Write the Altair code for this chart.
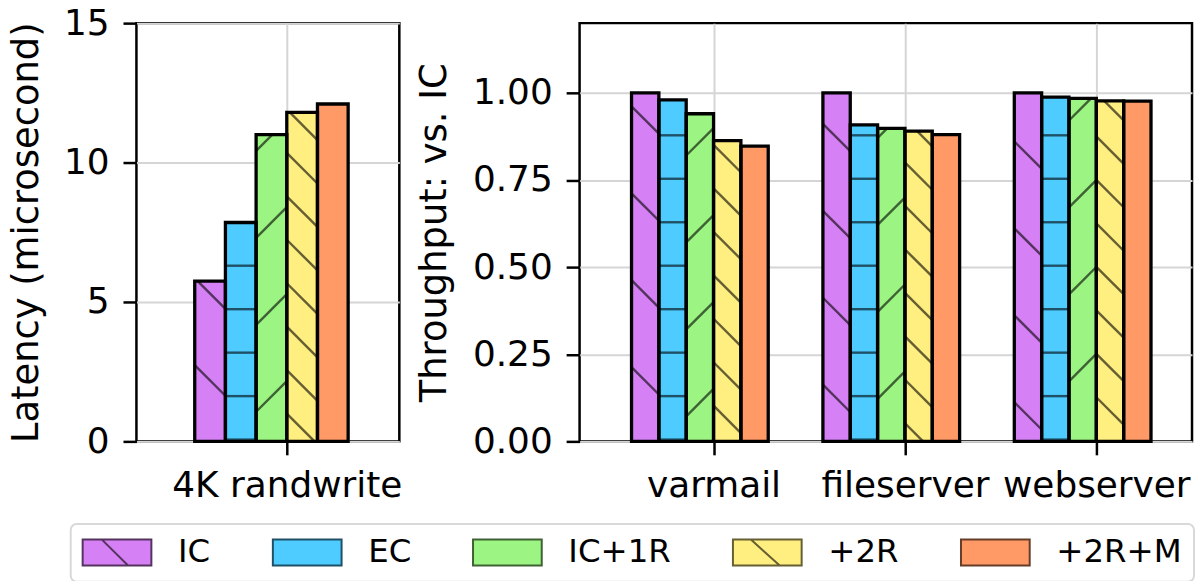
import json
import math
import altair as alt
import pandas as pd

# ---------------- data ----------------
series = ["IC", "EC", "IC+1R", "+2R", "+2R+M"]
latency_categories = ["4K randwrite"]
latency_values = [5.75, 7.85, 11.0, 11.8, 12.1]
throughput_categories = ["varmail", "fileserver", "webserver"]
varmail = [1.0, 0.98, 0.94, 0.863, 0.847]
fileserver = [1.0, 0.908, 0.898, 0.89, 0.88]
webserver = [1.0, 0.988, 0.984, 0.977, 0.976]
latency_ticks = [0, 5, 10, 15]
throughput_ticks = [0, 0.25, 0.5, 0.75, 1.0]

# ---------------- styles ----------------
fill_colors = ["#D580F5", "#4ECBFF", "#9CF582", "#FFEE80", "#FF9966"]
dark_colors = ["#55335F", "#1F5166", "#3E6234", "#665F33", "#663D29"]
rect_path = "M-2.3,-0.867L2.3,-0.867L2.3,0.867L-2.3,0.867Z"
legend_shapes = [
    rect_path + "M-1.01,-0.867L0.74,0.867",
    rect_path,
    rect_path,
    rect_path + "M-1.1,-0.867L0.83,0.867",
    rect_path,
]
PERIOD = 87.3
hatch_style = {
    "IC": ("back", PERIOD, 84.5),
    "EC": ("horiz", PERIOD / 2, 1.7),
    "IC+1R": ("fwd", PERIOD, 52.3),
    "+2R": ("back", PERIOD / 2, 40.85),
}
BAR_W = 1 / 7
FONT = "DejaVu Sans"
H = 420
LEFT = dict(ox=133, oy=20, W=264, xdom=(-0.7, 0.524), ymax=15)
RIGHT = dict(ox=578, oy=20, W=615, xdom=(-0.7, 2.5), ymax=1.2)


def bar_rows(categories, values_by_cat):
    rows = []
    for ci, cat in enumerate(categories):
        for si, s in enumerate(series):
            x = ci + (si - 3) * BAR_W
            rows.append(dict(category=cat, series=s, x=x, x2=x + BAR_W,
                             value=values_by_cat[ci][si], base=0,
                             fcolor=fill_colors[si]))
    return pd.DataFrame(rows)


def hatch_rows(df, ox, oy, W, xdom, ymax):
    span = xdom[1] - xdom[0]
    to_px = lambda xd: ox + (xd - xdom[0]) / span * W
    to_py = lambda yd: oy + (1 - yd / ymax) * H
    to_dx = lambda px: xdom[0] + (px - ox) / W * span
    to_dy = lambda py: ymax * (1 - (py - oy) / H)
    out = []
    for r in df.itertuples():
        if r.series not in hatch_style:
            continue
        kind, p, c0 = hatch_style[r.series]
        gx0, gx1 = to_px(r.x), to_px(r.x2)
        gyt, gyb = to_py(r.value), to_py(0)
        segs = []
        if kind == "horiz":
            cmin, cmax = gyt, gyb
        elif kind == "back":
            cmin, cmax = gyt - gx1, gyb - gx0
        else:
            cmin, cmax = gyt + gx0, gyb + gx1
        k0 = math.ceil((cmin - c0) / p)
        k1 = math.floor((cmax - c0) / p)
        for k in range(k0, k1 + 1):
            c = c0 + k * p
            if kind == "horiz":
                if gyt < c < gyb:
                    segs.append((gx0, c, gx1, c))
            elif kind == "back":
                xs, xe = max(gx0, gyt - c), min(gx1, gyb - c)
                if xe - xs > 0.5:
                    segs.append((xs, xs + c, xe, xe + c))
            else:
                xs, xe = max(gx0, c - gyb), min(gx1, c - gyt)
                if xe - xs > 0.5:
                    segs.append((xs, c - xs, xe, c - xe))
        for (ax, ay, bx, by) in segs:
            out.append(dict(series=r.series, hx=to_dx(ax), hy=to_dy(ay),
                            hx2=to_dx(bx), hy2=to_dy(by),
                            hcolor=dark_colors[series.index(r.series)]))
    return pd.DataFrame(out)


def panel(categories, values_by_cat, params, ticks, fmt, title, with_legend):
    df = bar_rows(categories, values_by_cat)
    hd = hatch_rows(df, **params)
    xscale = alt.Scale(domain=list(params["xdom"]), nice=False, zero=False)
    yscale = alt.Scale(domain=[0, params["ymax"]], nice=False)
    label_expr = json.dumps(categories) + "[round(datum.value)]"
    xaxis = alt.Axis(values=list(range(len(categories))), labelExpr=label_expr,
                     title=None, grid=True, labelFlush=False, labelOverlap=False,
                     labelLimit=500)
    yaxis = alt.Axis(values=ticks, format=fmt, title=title, grid=True,
                     labelLimit=500)

    base = alt.Chart(df)
    bars = base.mark_bar(strokeWidth=0).encode(
        x=alt.X("x:Q", scale=xscale, axis=xaxis),
        x2="x2:Q",
        y=alt.Y("value:Q", scale=yscale, axis=yaxis),
        y2="base:Q",
        fill=alt.Fill("fcolor:N", scale=None),
    )
    hatch = alt.Chart(hd).mark_rule(strokeWidth=2.4).encode(
        x="hx:Q", x2="hx2:Q", y="hy:Q", y2="hy2:Q",
        stroke=alt.Stroke("hcolor:N", scale=None),
    )
    outline = base.mark_bar(fillOpacity=0, stroke="black", strokeWidth=3.3).encode(
        x="x:Q", x2="x2:Q", y="value:Q", y2="base:Q",
    )
    layers = [bars, hatch, outline]
    if with_legend:
        leg = alt.Chart(pd.DataFrame({"series": series})).mark_point(
            filled=True, opacity=1, strokeWidth=2
        ).encode(
            fill=alt.Fill("series:N", scale=alt.Scale(domain=series, range=fill_colors), title=None),
            stroke=alt.Stroke("series:N", scale=alt.Scale(domain=series, range=dark_colors), title=None),
            shape=alt.Shape("series:N", scale=alt.Scale(domain=series, range=legend_shapes), title=None),
        ).transform_filter("false")
        layers.append(leg)
    return alt.layer(*layers).properties(width=params["W"], height=H)


left = panel(latency_categories, [latency_values], LEFT, latency_ticks, "d",
             "Latency (microsecond)", False)
right = panel(throughput_categories, [varmail, fileserver, webserver], RIGHT,
              throughput_ticks, ".2f", "Throughput: vs. IC", True)

chart = alt.hconcat(left, right, spacing=181, bounds="flush").properties(
    padding={"left": 5, "top": 2, "right": 1, "bottom": 2}
).configure_view(
    stroke="black", strokeWidth=2.5
).configure_axis(
    labelFont=FONT, labelFontSize=36, labelColor="black",
    titleFont=FONT, titleFontSize=37, titleFontWeight="normal", titleColor="black",
    tickColor="black", tickWidth=2.5, tickSize=13.5, labelPadding=14,
    titlePadding=18.5, gridColor="#d5d5d5", gridWidth=2, domain=False,
).configure_legend(
    orient="none", legendX=-66, legendY=503, direction="horizontal",
    padding=12, strokeColor="#d8d8d8", strokeWidth=2, cornerRadius=6,
    fillColor="white", labelFont=FONT, labelFontSize=32.5, labelColor="black",
    symbolOffset=18.25, labelOffset=45, columnPadding=58, symbolSize=900,
    symbolStrokeWidth=2,
)

chart.save("out.html", embed_options={"renderer": "svg", "actions": False})
